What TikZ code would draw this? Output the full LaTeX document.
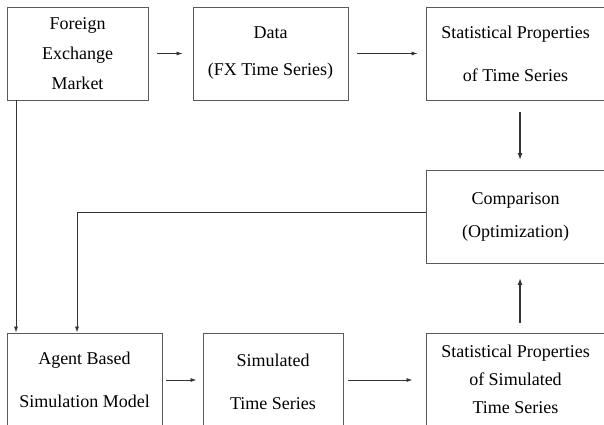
\documentclass[tikz,border=0pt]{standalone}
\usepackage{fontspec}
\setmainfont{Liberation Serif}
\usetikzlibrary{arrows.meta}
\tikzset{
  block/.style={draw=black!65, line width=0.9pt, inner sep=0pt, align=center,
    font=\fontsize{18}{#1}\selectfont},
  block/.default=30,
  flow/.style={draw=black!80, line width=0.8pt, -{Latex[length=6pt,width=4pt]}},
  bigflow/.style={flow, line width=1.8pt, -{Latex[length=7pt,width=5pt]}},
}
\begin{document}
\begin{tikzpicture}[x=1pt,y=-1pt]
  \useasboundingbox (0,0) rectangle (604,424);
  \clip (0,0) rectangle (604,424);
  \draw
    (77.5,53.5) node[block=30, minimum width=141, minimum height=93] (market){Foreign\\Exchange\\Market}
    (270.5,53.5) node[block=37, minimum width=155, minimum height=93] (data){Data\\(FX Time Series)}
    (515.5,53.5) node[block=43, minimum width=179, minimum height=93] (stat){Statistical Properties\\of Time Series}
    (515.5,217) node[block=33, minimum width=179, minimum height=93] (comp){Comparison\\(Optimization)}
    (84.5,379.5) node[block=43, minimum width=155, minimum height=93] (agent){Agent Based\\Simulation Model}
    (273,382) node[block=43, minimum width=140, minimum height=98] (simts){Simulated\\Time Series}
    (515.5,379.5) node[block=28, minimum width=179, minimum height=93] (statsim){Statistical Properties\\of Simulated\\Time Series};
  \coordinate (leftx) at (16,0);
  \coordinate (bend) at (77,212);
  \begin{scope}[flow]
    \draw[shorten <=9pt, shorten >=10pt] (market) -- (data);
    \draw[shorten <=9pt, shorten >=8pt] (data) -- (stat);
    \draw[shorten <=4pt, shorten >=6pt] (agent.east |- 0,380) -- (simts.west |- 0,380);
    \draw[shorten <=5pt, shorten >=13pt] (simts.east |- 0,380) -- (statsim.west |- 0,380);
    \draw (market.south -| leftx) -- (agent.north -| leftx);
    \draw (comp.west |- bend) -- (bend) -- (agent.north -| bend);
    \draw[bigflow, shorten <=12pt, shorten >=10pt] (stat.south -| 520,0) -- (comp.north -| 520,0);
    \draw[bigflow, shorten <=10pt, shorten >=14pt] (statsim.north -| 520,0) -- (comp.south -| 520,0);
  \end{scope}
\end{tikzpicture}
\end{document}
